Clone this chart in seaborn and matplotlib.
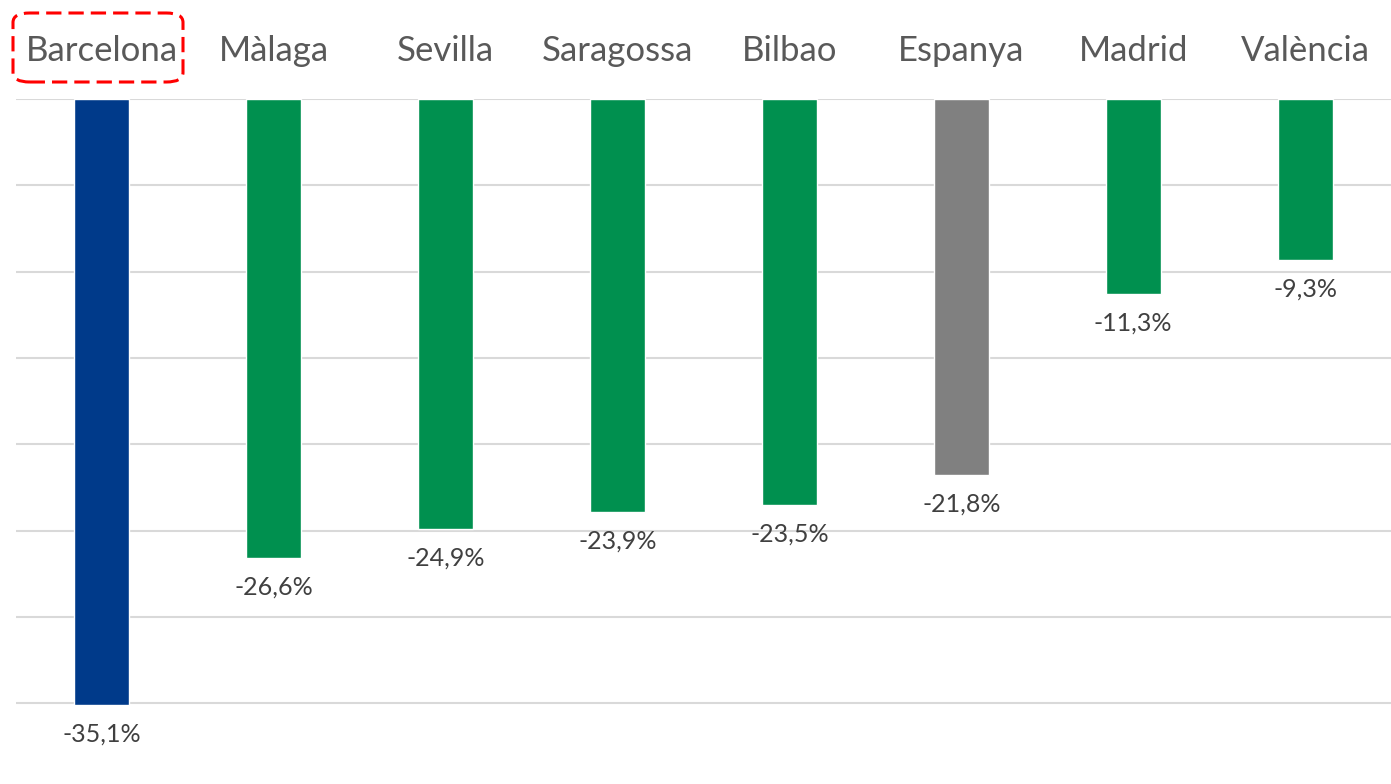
import matplotlib
matplotlib.use("Agg")
import pandas as pd
import seaborn as sns
from matplotlib import pyplot as plt
from matplotlib.patches import FancyBboxPatch

cities = ["Barcelona", "Màlaga", "Sevilla", "Saragossa", "Bilbao", "Espanya", "Madrid", "València"]
values = [-35.1, -26.6, -24.9, -23.9, -23.5, -21.8, -11.3, -9.3]
groups = ["bcn", "city", "city", "city", "city", "spain", "city", "city"]
palette = {"bcn": "#003A8A", "city": "#00904F", "spain": "#808080"}

sns.set_theme(style="white")
plt.rcParams['font.family'] = ['Lato', 'DejaVu Sans']

df = pd.DataFrame({"city": cities, "value": values, "group": groups})

fig = plt.figure(figsize=(13.91, 7.84), dpi=100)
ax = fig.add_axes([16 / 1391, 1 - 705 / 784, 1 - 16 / 1391, (705 - 99) / 784])

sns.barplot(data=df, x="city", y="value", hue="group", palette=palette,
            dodge=False, width=0.32, legend=False, ax=ax, saturation=1)

ax.set_ylim(-35.1, 0)
ax.set_xlim(-0.5, len(cities) - 0.5)
ax.set_yticks([0, -5, -10, -15, -20, -25, -30, -35])
ax.yaxis.grid(True, color="#D9D9D9", linewidth=1.5)
ax.set_axisbelow(True)
ax.tick_params(axis="y", left=False, labelleft=False)
ax.set_xlabel("")
ax.set_ylabel("")
for s in ax.spines.values():
    s.set_visible(False)

# category labels on top
ax.xaxis.tick_top()
ax.tick_params(axis="x", top=False, bottom=False, labeltop=True, labelbottom=False,
               labelsize=25, labelcolor="#595959", pad=17)

for i, v in enumerate(values):
    lab = f"{v:.1f}%".replace(".", ",")
    ax.annotate(lab, xy=(i, v), xytext=(0, -21), textcoords="offset points",
                ha="center", va="center", fontsize=18, color="#404040",
                annotation_clip=False)

# highlight box around Barcelona
box = FancyBboxPatch((13 / 1391, 1 - 82 / 784), 170 / 1391, 69 / 784,
                     boxstyle="round,pad=0,rounding_size=0.012",
                     transform=fig.transFigure, fill=False,
                     edgecolor="#FF0000", linestyle=(0, (5, 2.3)), linewidth=2.2)
fig.patches.append(box)

fig.savefig("out.png", dpi=100)
